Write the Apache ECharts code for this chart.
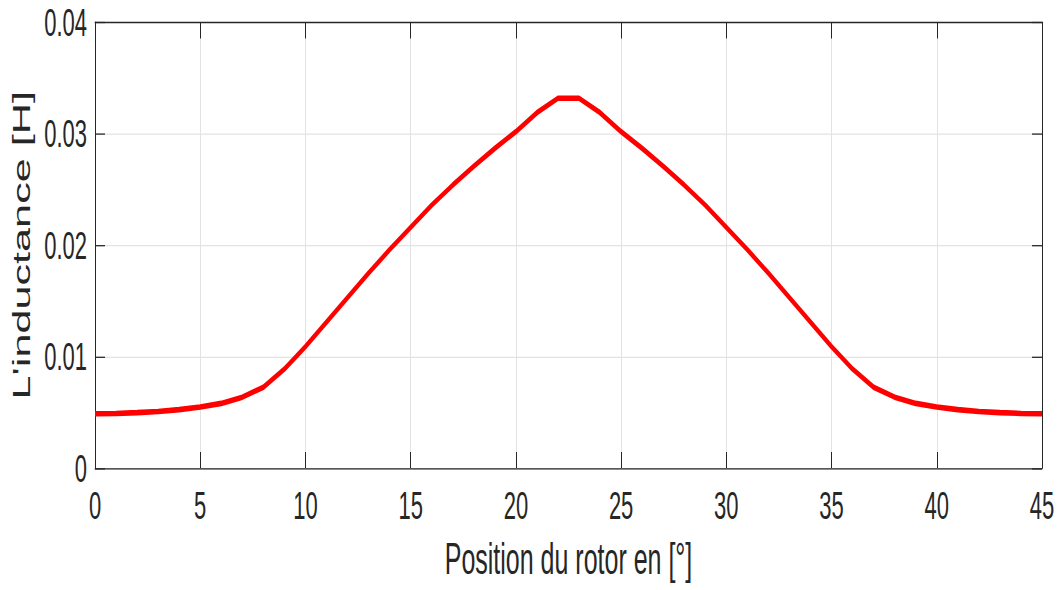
<!DOCTYPE html>
<html>
<head>
<meta charset="utf-8">
<script src="https://cdn.jsdelivr.net/npm/echarts@6/dist/echarts.min.js"></script>
<style>
  html, body { margin: 0; padding: 0; background: #ffffff; width: 1059px; height: 590px; }
  #frame { position: relative; width: 1059px; height: 590px; overflow: hidden; background: #ffffff; }
  /* The figure is laid out at a flatter height and stretched vertically,
     giving the tall, narrow lettering of the exported plot. */
  #chart {
    position: absolute;
    left: 0;
    top: 0;
    width: 1059px;
    height: 327.78px;
    transform: scaleY(1.8);
    transform-origin: 0 0;
  }
</style>
</head>
<body>
<div id="frame"><div id="chart"></div></div>
<script>
// Rotor position in degrees
const positions = [
  0, 1, 2, 3, 4, 5, 6, 7, 8, 9,
  10, 11, 12, 13, 14, 15, 16, 17, 18, 19,
  20, 21, 22, 23, 24, 25, 26, 27, 28, 29,
  30, 31, 32, 33, 34, 35, 36, 37, 38, 39,
  40, 41, 42, 43, 44, 45
];

// Phase inductance in henry at each position
const inductance = [
  0.00487, 0.00490, 0.00497, 0.00508, 0.00524, 0.00548, 0.00580, 0.00636, 0.00725, 0.00888,
  0.01090, 0.01310, 0.01530, 0.01750, 0.01960, 0.02160, 0.02360, 0.02540, 0.02710, 0.02870,
  0.03020, 0.03190, 0.03320, 0.03320, 0.03190, 0.03020, 0.02870, 0.02710, 0.02540, 0.02360,
  0.02160, 0.01960, 0.01750, 0.01530, 0.01310, 0.01090, 0.00888, 0.00725, 0.00636, 0.00580,
  0.00548, 0.00524, 0.00508, 0.00497, 0.00490, 0.00487
];

const xTitle = 'Position du rotor en [°]';
const yTitle = "L'inductance [H]";

const FONT = "'Liberation Sans', Arial, Helvetica, sans-serif";
const INK = '#262626';
const GRID = '#e3e3e3';

const points = positions.map((p, i) => [p, inductance[i]]);

const chart = echarts.init(document.getElementById('chart'), null, { renderer: 'svg' });

const xScale = { type: 'value', min: 0, max: 45, interval: 5 };
const yScale = { type: 'value', min: 0, max: 0.04, interval: 0.01 };

chart.setOption({
  animation: false,
  backgroundColor: '#ffffff',
  grid: { left: 95, right: 17, top: 12.5, bottom: 65.3, containLabel: false },
  xAxis: [
    Object.assign({}, xScale, {
      position: 'bottom',
      name: xTitle,
      nameLocation: 'middle',
      nameGap: 38,
      nameTextStyle: { fontFamily: FONT, fontSize: 25, color: INK },
      axisLine: { show: true, onZero: false, lineStyle: { color: INK, width: 0.7 } },
      axisTick: { show: true, inside: true, length: 8.9, lineStyle: { color: INK, width: 1 } },
      axisLabel: { margin: 10, fontFamily: FONT, fontSize: 22, color: INK },
      splitLine: { show: true, lineStyle: { color: GRID, width: 1 } }
    }),
    Object.assign({}, xScale, {
      position: 'top',
      axisLine: { show: true, onZero: false, lineStyle: { color: INK, width: 0.7 } },
      axisTick: { show: true, inside: true, length: 8.9, lineStyle: { color: INK, width: 1 } },
      axisLabel: { show: false },
      splitLine: { show: false }
    })
  ],
  yAxis: [
    Object.assign({}, yScale, {
      position: 'left',
      name: yTitle,
      nameLocation: 'middle',
      nameRotate: 90,
      nameGap: 59,
      nameTextStyle: { fontFamily: FONT, fontSize: 24, color: INK },
      axisLine: { show: true, onZero: false, lineStyle: { color: INK, width: 1 } },
      axisTick: { show: true, inside: true, length: 10, lineStyle: { color: INK, width: 0.7 } },
      axisLabel: {
        margin: 8, fontFamily: FONT, fontSize: 22, color: INK,
        formatter: v => (v === 0 ? '0' : v.toFixed(2))
      },
      splitLine: { show: true, lineStyle: { color: GRID, width: 0.65 } }
    }),
    Object.assign({}, yScale, {
      position: 'right',
      axisLine: { show: true, onZero: false, lineStyle: { color: INK, width: 1 } },
      axisTick: { show: true, inside: true, length: 10, lineStyle: { color: INK, width: 0.7 } },
      axisLabel: { show: false },
      splitLine: { show: false }
    })
  ],
  series: [{
    type: 'line',
    xAxisIndex: 0,
    yAxisIndex: 0,
    data: points,
    showSymbol: false,
    smooth: false,
    lineStyle: { color: '#ff0000', width: 3.1 },
    z: 5
  }]
});
</script>
</body>
</html>
